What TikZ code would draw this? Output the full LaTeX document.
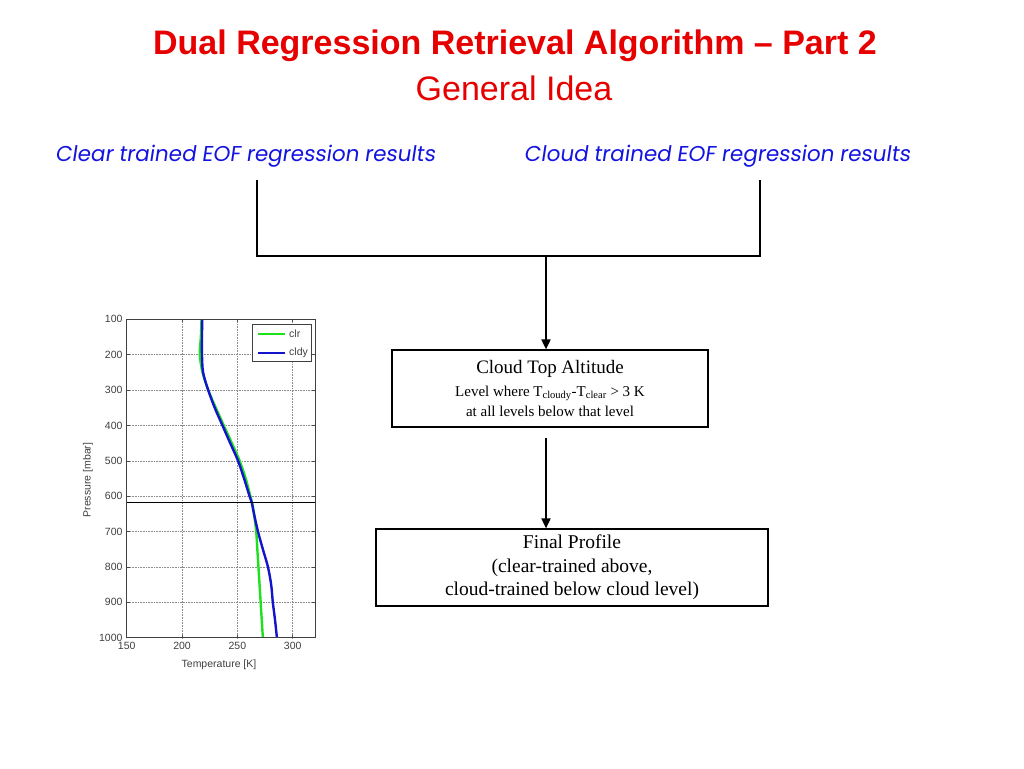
\documentclass[tikz,border=0pt]{standalone}
\usepackage{fontspec}
\setmainfont{Liberation Serif}
\newfontfamily\arialfont{Liberation Sans}
\newfontfamily\handfont[FakeSlant=0.15]{Poppins}
\usetikzlibrary{arrows.meta}
\definecolor{titlered}{RGB}{230,0,0}
\definecolor{labelblue}{RGB}{20,20,225}
\definecolor{clrgreen}{RGB}{30,225,30}
\definecolor{cldyblue}{RGB}{20,20,205}
\begin{document}
\begin{tikzpicture}
    [
    x=1pt, y=-1pt,
    heading/.style={
      text=titlered,
      font=\arialfont\fontsize{34}{38}\selectfont,
      inner sep=0pt
    },
    source/.style={
      text=labelblue,
      font=\handfont\fontsize{21.5}{24}\selectfont,
      inner sep=0pt
    },
    stepbox/.style={
      draw,
      line width=1.2pt,
      align=center,
      inner sep=0pt
    },
    link/.style={
      line width=1.8pt
    },
    flow/.style={
      line width=1.8pt,
      -{Triangle[length=10pt,width=9pt]}
    },
    ticklabel/.style={
      font=\arialfont\fontsize{10.5}{12}\selectfont,
      text=black!75,
      inner sep=0pt
    }]
    \useasboundingbox [fill=white] (0,0) rectangle (1024,768);
    % title
    \node (title) at (515,46) [heading] {\bfseries Dual Regression Retrieval Algorithm – Part 2};
    \node (subtitle) at (514,88) [heading] {General Idea};
    % the two regressions
    \node (clear) at (245,156) [source] {Clear trained EOF regression results};
    \node (cloud) at (717,156) [source] {Cloud trained EOF regression results};
    \coordinate (clearfoot) at (257,180);
    \coordinate (cloudfoot) at (760,180);
    \coordinate (join) at (546,256);
    % boxes
    \node (ctop) at (550,388.5) [stepbox, minimum width=316pt, minimum height=77pt,
      font=\fontsize{15}{20}\selectfont]
      {{\fontsize{19}{22}\selectfont Cloud Top Altitude}\\[3pt]
       Level where T\textsubscript{cloudy}-T\textsubscript{clear} > 3 K\\
       at all levels below that level};
    \node (final) at (572,567.5) [stepbox, minimum width=392pt, minimum height=77pt,
      font=\fontsize{19.5}{23.5}\selectfont]
      {Final Profile\\
       (clear-trained above,\\
       cloud-trained below cloud level)};
    % connectors
    \draw [link] (clearfoot) |- (join) -| (cloudfoot);
    \draw [flow] (join) -- (join |- ctop.north);
    \draw [flow] ([yshift=-10pt]join |- ctop.south) -- (join |- final.north);
    % temperature profiles
    \begin{scope}[xshift=-39.35pt, yshift=-283.9pt, x=1.107pt, y=-0.3538pt]
      \foreach \t in {200,250,300}
        \draw [black!45, densely dotted, line width=0.6pt] (\t,100) -- (\t,1000);
      \foreach \p in {200,300,...,900}
        \draw [black!45, densely dotted, line width=0.6pt] (150,\p) -- (320,\p);
      \foreach \t in {150,200,250,300} {
        \draw [black!70, line width=0.6pt] (\t,1000) -- ++(0,-9) (\t,100) -- ++(0,9);
        \node (t\t) at (\t,1000) [ticklabel, anchor=north, yshift=-4pt] {\t};
      }
      \foreach \p in {100,200,...,1000} {
        \draw [black!70, line width=0.6pt] (150,\p) -- ++(2.8,0) (320,\p) -- ++(-2.8,0);
        \node (p\p) at (150,\p) [ticklabel, anchor=east, xshift=-4pt] {\p};
      }
      \draw [clrgreen, line width=2.4pt] plot [smooth] coordinates {
        (217.6,100) (217,150) (216,200) (218.5,250) (223.6,300) (230.5,350)
        (237.7,400) (245,450) (252,500) (257.5,550) (261.7,600) (263.2,618)
        (265,650) (267,700) (268,750) (269,800) (270,850) (271,900) (272,950) (273,1000)};
      \draw [cldyblue, line width=2.4pt] plot [smooth] coordinates {
        (218.2,100) (218,150) (218,200) (219,250) (223.6,300) (229.5,350)
        (236.5,400) (243.5,450) (250.6,500) (256,550) (261,600) (263,618)
        (265,650) (268.6,700) (273,750) (277.6,800) (280.5,850) (282,900) (284,950) (285.7,1000)};
      \draw [line width=1.3pt] (150,618) -- (320,618);
      \draw [black!75, line width=0.7pt] (150,100) rectangle (320,1000);
    \end{scope}
    % legend
    \draw [black!75, fill=white, line width=0.7pt] (252,324) rectangle (311,361);
    \draw [clrgreen, line width=2.4pt] (258,334) -- (285,334);
    \draw [cldyblue, line width=2.4pt] (258,353) -- (285,353);
    \node (clr) at (289,334) [ticklabel, anchor=west] {clr};
    \node (cldy) at (289,353) [ticklabel, anchor=west] {cldy};
    % axis titles
    \node (ylabel) at (88,480) [ticklabel, rotate=90] {Pressure [mbar]};
    \node (xlabel) at (219,665) [ticklabel] {Temperature [K]};
  \end{tikzpicture}
\end{document}
